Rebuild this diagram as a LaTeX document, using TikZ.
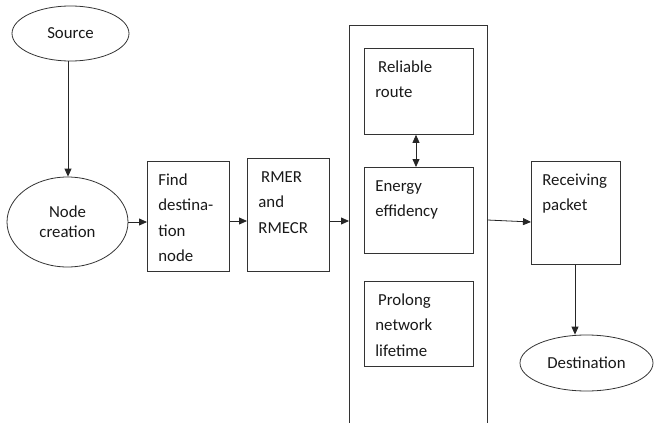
\documentclass[tikz,border=0pt]{standalone}
\usepackage{fontspec}
\setmainfont{Carlito}
\usetikzlibrary{shapes.geometric,arrows.meta}

% box text: fixed-size parbox, text starting from the top
\newcommand{\boxtxt}[3]{\parbox[c][#2][t]{#1}{\rule{0pt}{24pt}#3}}

\tikzset{
  every node/.style={font=\fontsize{16.8}{25.5}\selectfont, text=black!90},
  oval/.style={draw=black!80, line width=0.8pt, ellipse, inner sep=0pt, align=center},
  procbox/.style={draw=black!80, line width=0.8pt, rectangle, inner xsep=11pt, inner ysep=0pt, align=left},
  flow/.style={draw=black!85, line width=0.8pt, -{Triangle[length=8pt,width=7pt]}},
  twoway/.style={draw=black!85, line width=0.8pt, {Triangle[length=8pt,width=7pt]}-{Triangle[length=8pt,width=7pt]}}
}

\begin{document}
\begin{tikzpicture}[x=1pt,y=-1pt]
\useasboundingbox (0,0) rectangle (654,423);

% start and end points
\node[oval, minimum width=117pt, minimum height=55pt] (src) at (70.5,33.5) {Source};
\node[oval, minimum width=121pt, minimum height=90pt, font=\fontsize{16.8}{20}\selectfont] (nc) at (67.5,222) {Node\\creation};
\node[oval, minimum width=133pt, minimum height=56pt] (dst) at (586.5,363) {Destination};

% processing steps
\node[procbox, anchor=north west] (fdn) at (147,161) {\boxtxt{60pt}{110pt}{Find\\destina-\\tion\\node}};
\node[procbox, anchor=north west] (rmer) at (247,158) {\boxtxt{60pt}{113pt}{\,RMER\\and\\RMECR}};

% enclosing frame, open at the bottom
\node[minimum width=138pt, minimum height=398pt, inner sep=0pt, anchor=north west] (big) at (349,25) {};
\draw[draw=black!80, line width=0.8pt] (big.south west) |- (big.north east) -- (big.south east);

\node[procbox, anchor=north west] (rr) at (364,48) {\boxtxt{87pt}{86pt}{\,Reliable\\route}};
\node[procbox, anchor=north west] (ee) at (364,167) {\boxtxt{87pt}{86pt}{Energy\\effidency}};
\node[procbox, anchor=north west] (pnl) at (364,281) {\boxtxt{87pt}{85pt}{\,Prolong\\network\\lifetime}};

\node[procbox, anchor=north west] (rp) at (531,161) {\boxtxt{67pt}{103pt}{Receiving\\packet}};

% connectors
\draw[flow] (src.south -| 68,0) -- (nc.north -| 68,0);
\draw[flow] (nc.east) -- (fdn.west |- nc.east);
\draw[flow] (fdn.east |- 0,221) -- (rmer.west |- 0,221);
\draw[flow] (rmer.east |- 0,221) -- (big.west |- 0,221);
\draw[twoway] (rr.south -| 416,0) -- (ee.north -| 416,0);
\draw[flow] (big.east |- 0,220) -- (rp.west |- 0,222);
\draw[flow] (rp.south -| 575,0) -- (dst.north -| 575,0);
\end{tikzpicture}
\end{document}
